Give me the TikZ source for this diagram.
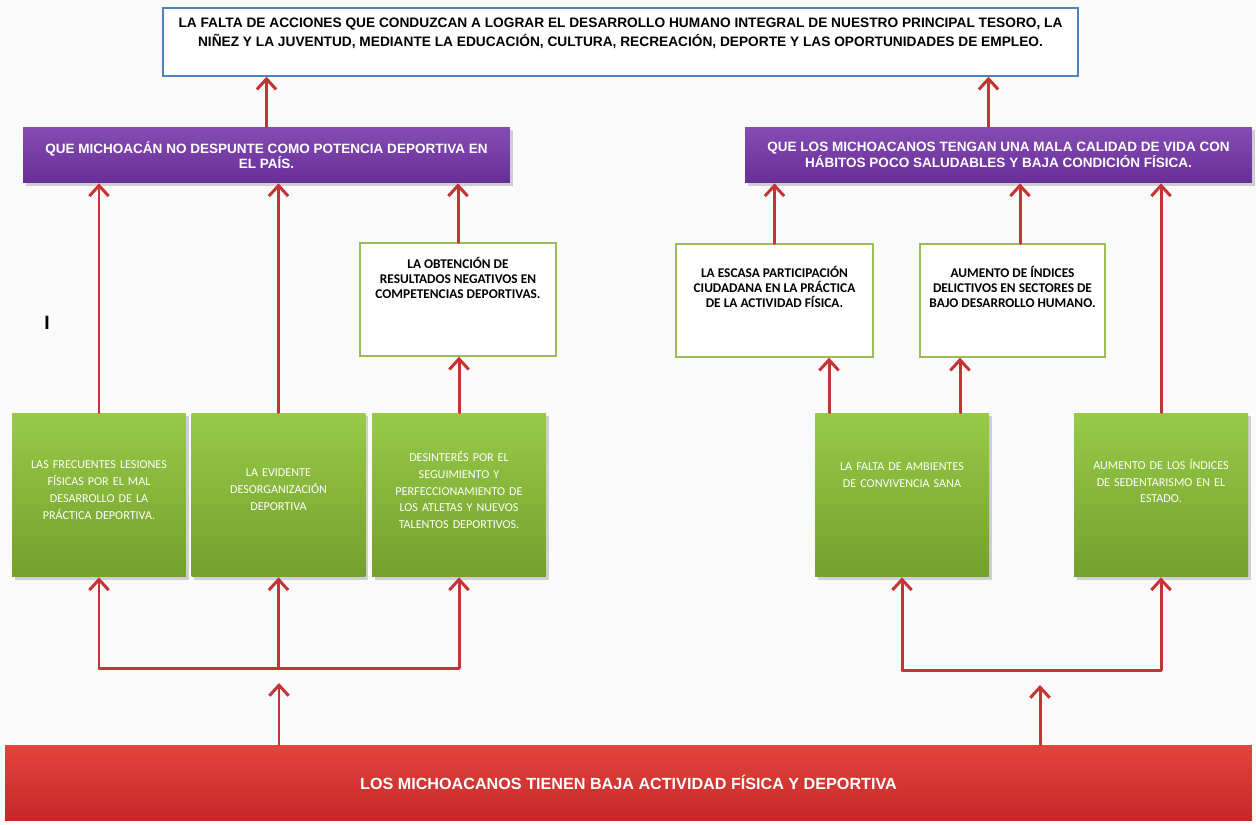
\documentclass[tikz,border=0pt]{standalone}
\usepackage{fontspec}
\setmainfont{Liberation Sans}
\newfontfamily\calibfont{Carlito}
\usetikzlibrary{arrows.meta,shadows,calc}

\definecolor{fondo}{RGB}{250,250,250}
\definecolor{azulborde}{RGB}{79,129,189}
\definecolor{moradoclaro}{RGB}{132,76,180}
\definecolor{moradooscuro}{RGB}{104,46,152}
\definecolor{verdeclaro}{RGB}{152,202,72}
\definecolor{verdeoscuro}{RGB}{116,160,44}
\definecolor{verdeborde}{RGB}{155,187,89}
\definecolor{rojoclaro}{RGB}{228,68,62}
\definecolor{rojooscuro}{RGB}{196,40,40}
\definecolor{rojoflecha}{RGB}{196,52,52}

% texto pegado arriba dentro de una caja
\newcommand{\textoarriba}[4]{\parbox[c][#1][t]{#2}{\centering\vspace*{#3}#4}}

\begin{document}
\begin{tikzpicture}[x=0.02cm, y=-0.02cm,
    efecto/.style={draw=azulborde, line width=0.8pt, fill=white, inner sep=0pt,
        font=\bfseries\fontsize{7.8}{10.8}\selectfont},
    consec/.style={top color=moradoclaro, bottom color=moradooscuro,
        drop shadow={shadow xshift=1.5pt, shadow yshift=-1.5pt, opacity=0.35},
        minimum height=1.12cm, align=center, text=white,
        font=\bfseries\fontsize{7.7}{9}\selectfont},
    causaind/.style={draw=verdeborde, line width=0.8pt, fill=white, inner sep=0pt,
        font=\calibfont\bfseries\fontsize{7.6}{8.5}\selectfont},
    causa/.style={top color=verdeclaro, bottom color=verdeoscuro,
        drop shadow={shadow xshift=1.5pt, shadow yshift=-1.5pt, opacity=0.35},
        minimum width=3.48cm, minimum height=3.28cm, text width=3.3cm, inner xsep=0pt,
        align=center, text=white, font=\calibfont\fontsize{6.9}{9.6}\selectfont},
    problema/.style={top color=rojoclaro, bottom color=rojooscuro,
        minimum width=24.94cm, minimum height=1.5cm, text=white,
        font=\bfseries\fontsize{9.2}{10}\selectfont},
    flecha/.style={draw=rojoflecha, line width=1.7pt, line cap=round,
        -{Straight Barb[length=6pt, width=11pt]}},
    linea/.style={draw=rojoflecha, line width=1.7pt, line cap=round}]

    \fill[fondo] (0,0) rectangle (1256,824);
    \useasboundingbox (0,0) rectangle (1256,824);

    % efecto principal
    \node[efecto] (efecto) at (620.5,42) {\textoarriba{1.36cm}{18.3cm}{0.2cm}{%
        LA FALTA DE ACCIONES QUE CONDUZCAN A LOGRAR EL DESARROLLO HUMANO INTEGRAL DE NUESTRO PRINCIPAL TESORO, LA\\
        NIÑEZ Y LA JUVENTUD, MEDIANTE LA EDUCACIÓN, CULTURA, RECREACIÓN, DEPORTE Y LAS OPORTUNIDADES DE EMPLEO.}};

    % consecuencias
    \node[consec, minimum width=9.74cm] (cl) at (266.5,155)
        {QUE MICHOACÁN NO DESPUNTE COMO POTENCIA DEPORTIVA EN\\EL PAÍS.};
    \node[consec, minimum width=10.14cm] (cr) at (998.5,155)
        {QUE LOS MICHOACANOS TENGAN UNA MALA CALIDAD DE VIDA CON\\HÁBITOS POCO SALUDABLES Y BAJA CONDICIÓN FÍSICA.};

    % causas indirectas
    \node[causaind] (o1) at (458,299.5) {\textoarriba{2.26cm}{3.92cm}{0.28cm}{%
        LA OBTENCIÓN DE\\RESULTADOS NEGATIVOS EN\\COMPETENCIAS DEPORTIVAS.}};
    \node[causaind] (o2) at (774.5,300.5) {\textoarriba{2.26cm}{3.94cm}{0.45cm}{%
        LA ESCASA PARTICIPACIÓN\\CIUDADANA EN LA PRÁCTICA\\DE LA ACTIVIDAD FÍSICA.}};
    \node[causaind] (o3) at (1012.5,300.5) {\textoarriba{2.26cm}{3.7cm}{0.45cm}{%
        AUMENTO DE ÍNDICES\\DELICTIVOS EN SECTORES DE\\BAJO DESARROLLO HUMANO.}};

    % causas
    \foreach \nom/\px/\dy/\txt in {
        g1/99/0.2cm/{LAS FRECUENTES LESIONES\\FÍSICAS POR EL MAL\\DESARROLLO DE LA\\PRÁCTICA DEPORTIVA.},
        g2/278.5/0.2cm/{LA EVIDENTE\\DESORGANIZACIÓN\\DEPORTIVA},
        g3/459/0.2cm/{DESINTERÉS POR EL\\SEGUIMIENTO Y\\PERFECCIONAMIENTO DE\\LOS ATLETAS Y NUEVOS\\TALENTOS DEPORTIVOS.},
        g4/902/0.8cm/{LA FALTA DE AMBIENTES\\DE CONVIVENCIA SANA},
        g5/1161/0.56cm/{AUMENTO DE LOS ÍNDICES\\DE SEDENTARISMO EN EL\\ESTADO.}} {
        \node[causa] (\nom) at (\px,495) {\txt\par\vspace*{\dy}};
    }

    % problema central
    \node[problema] (problema) at (628.5,782.5) {LOS MICHOACANOS TIENEN BAJA ACTIVIDAD FÍSICA Y DEPORTIVA};

    \node[font=\bfseries\fontsize{11}{12}\selectfont] (marca) at (47,323) {I};

    % flechas hacia arriba
    \draw[flecha] (cl.north) -- (cl.north |- efecto.south);
    \draw[flecha] ([xshift=-0.2cm]cr.north) -- ([xshift=-0.2cm]cr.north |- efecto.south);
    \foreach \g in {g1,g2,o1} {
        \draw[flecha] (\g.north) -- (\g.north |- cl.south);
    }
    \draw[flecha] (g3.north) -- (g3.north |- o1.south);
    \draw[flecha] (o2.north) -- (o2.north |- cr.south);
    \draw[flecha] ([xshift=0.15cm]o3.north) -- ([xshift=0.15cm]o3.north |- cr.south);
    \draw[flecha] (g5.north) -- (g5.north |- cr.south);
    \draw[flecha] ([xshift=-1.46cm]g4.north) -- ([xshift=-1.46cm]g4.north |- o2.south);
    \draw[flecha] ([xshift=1.16cm]g4.north) -- ([xshift=1.16cm]g4.north |- o3.south);

    % ramas desde el problema
    \coordinate (ramai) at (279,668);
    \coordinate (ramad) at (1040,670);
    \draw[linea] (g1.south |- ramai) -- (g3.south |- ramai);
    \foreach \g in {g1,g2,g3} {
        \draw[flecha] (\g.south |- ramai) -- (\g.south);
    }
    \draw[flecha] (problema.north -| ramai) -- ([yshift=-0.3cm]ramai);
    \draw[linea] (g4.south |- ramad) -- (g5.south |- ramad);
    \foreach \g in {g4,g5} {
        \draw[flecha] (\g.south |- ramad) -- (\g.south);
    }
    \draw[flecha] (problema.north -| ramad) -- ([yshift=-0.3cm]ramad);
\end{tikzpicture}
\end{document}
